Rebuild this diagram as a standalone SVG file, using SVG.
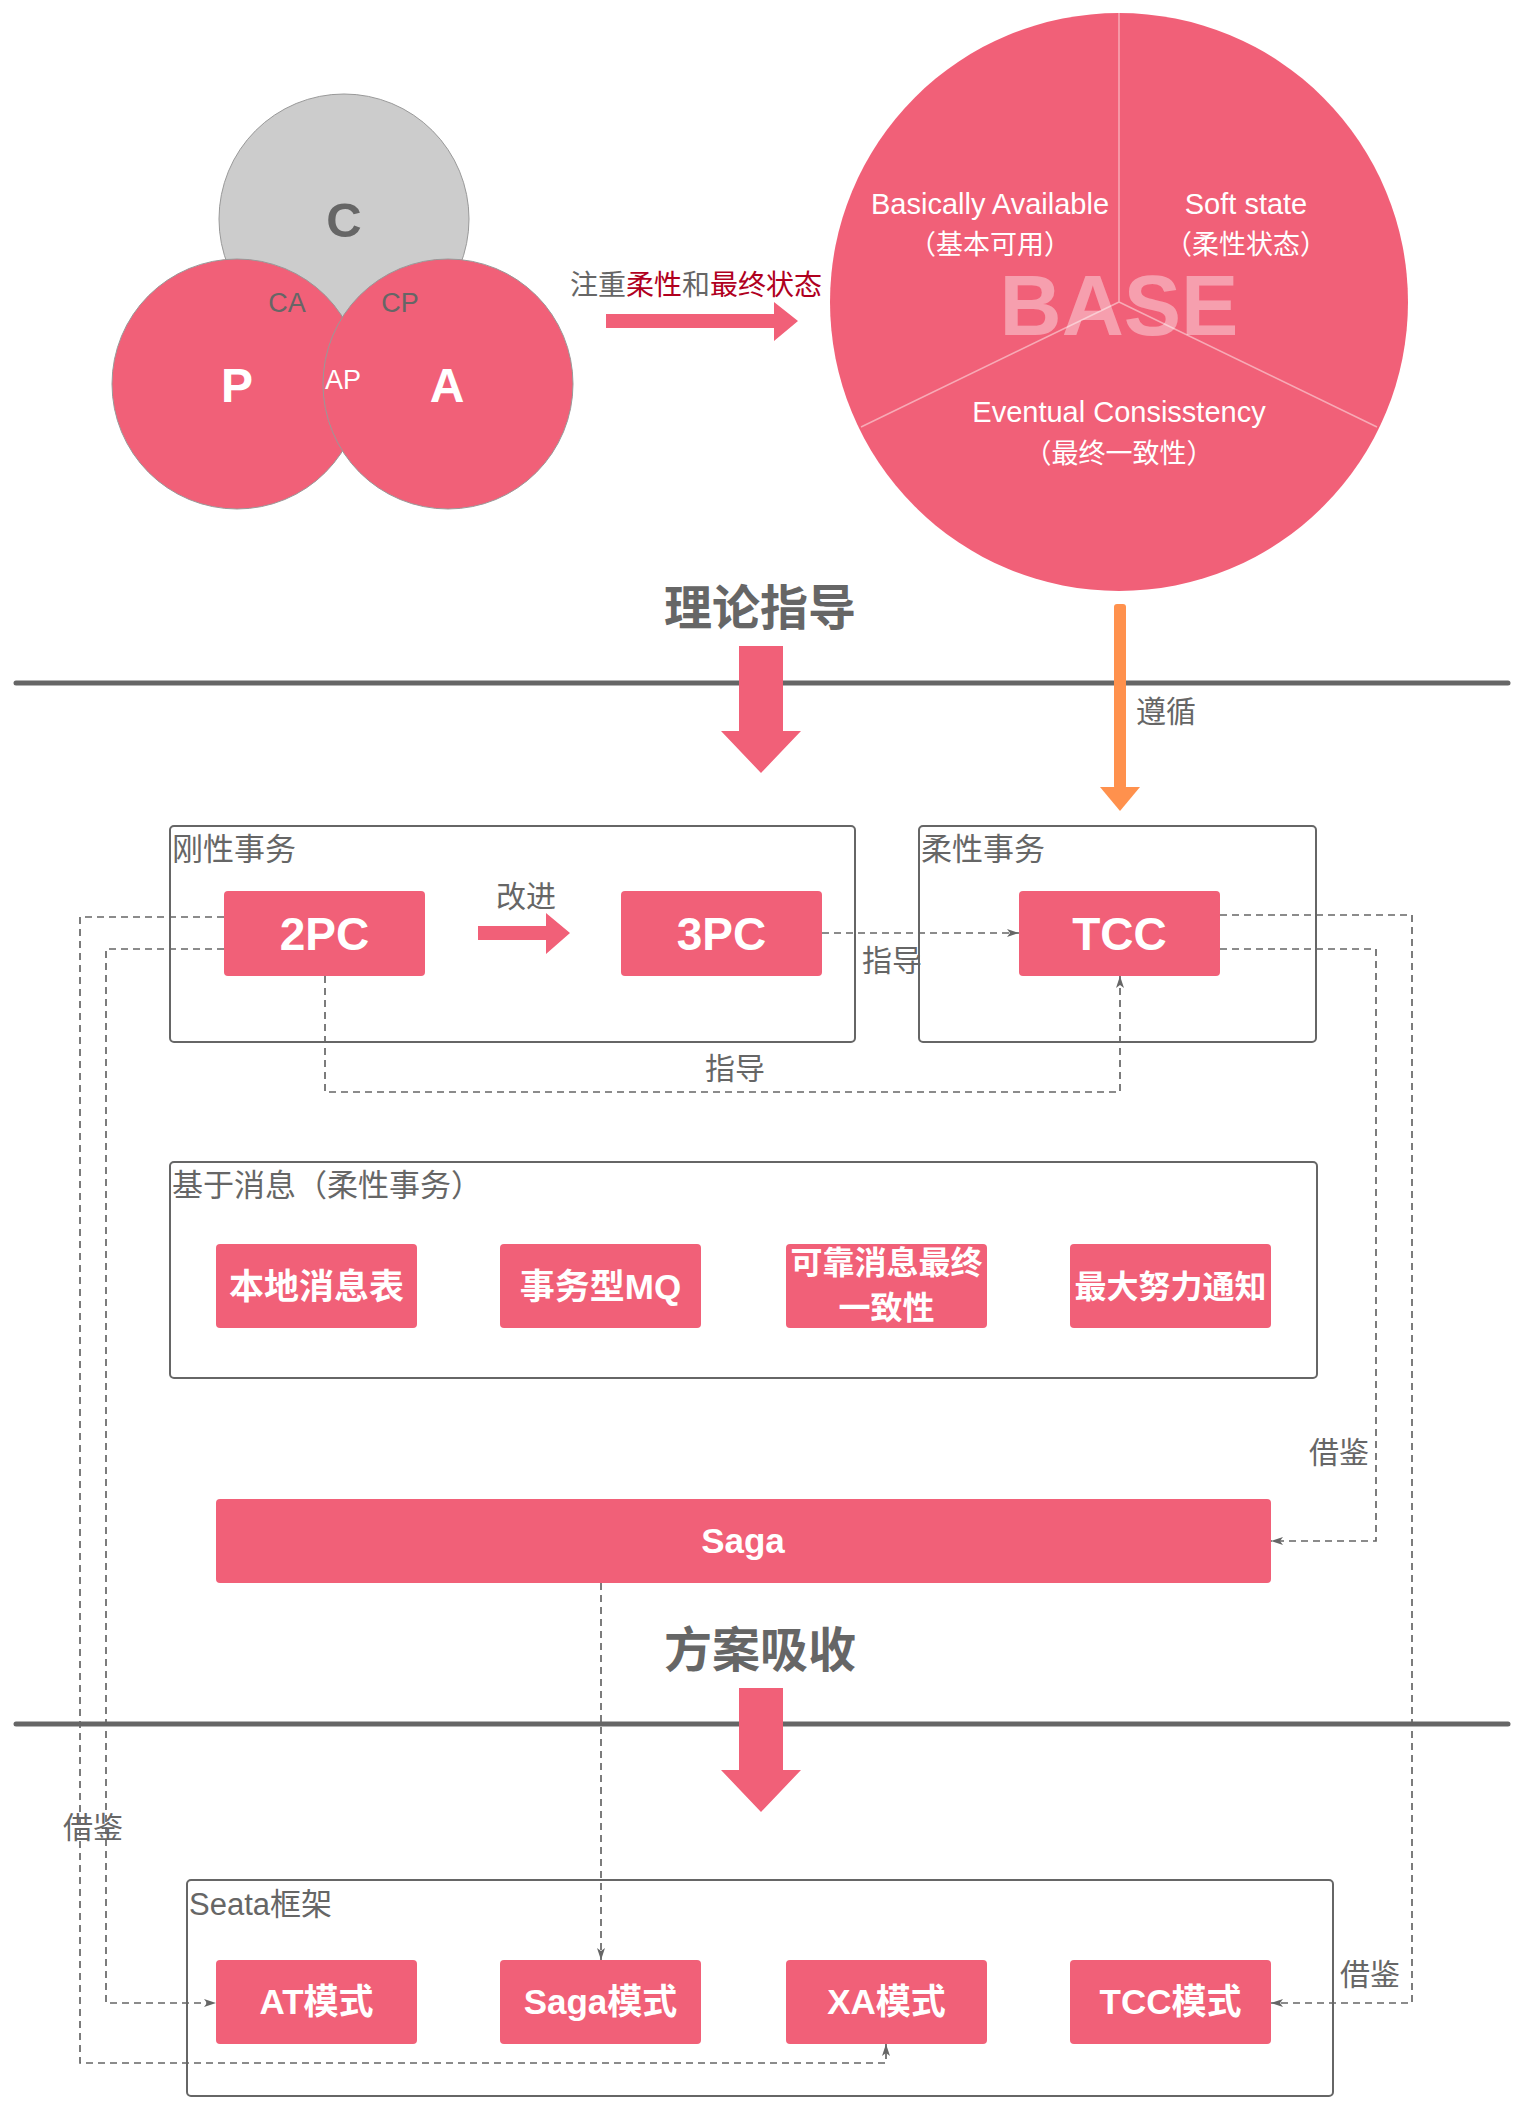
<svg xmlns="http://www.w3.org/2000/svg" width="1522" height="2114" viewBox="0 0 1522 2114">
<style>
  text { font-family: "Liberation Sans", "Noto Sans CJK SC", sans-serif; }
  .gray { fill: #666666; }
  .white { fill: #ffffff; }
  .bold { font-weight: bold; }
  .pink { fill: #f16078; }
  .frame { fill: none; stroke: #666666; stroke-width: 2; }
  .dash { fill: none; stroke: #666666; stroke-width: 1.7; stroke-dasharray: 7 5; }
  .lbl { font-size: 31px; fill: #666666; }
  .lbl30 { font-size: 30px; fill: #666666; }
  .node { font-size: 35px; font-weight: bold; fill: #ffffff; text-anchor: middle; }
  .node32 { font-size: 32px; font-weight: bold; fill: #ffffff; text-anchor: middle; }
  .big { font-size: 46px; font-weight: bold; fill: #ffffff; text-anchor: middle; }
  .title { font-size: 48px; font-weight: bold; fill: #666666; text-anchor: middle; }
  .sep { stroke: #666666; stroke-width: 5; stroke-linecap: round; }
  .base { font-size: 29px; fill: #ffffff; text-anchor: middle; }
  .basecn { font-size: 27px; fill: #ffffff; text-anchor: middle; }
  .red { fill: #b0001e; }
</style>
<defs>
  <marker id="ah" viewBox="0 0 12 8" refX="12" refY="4" markerWidth="12" markerHeight="8" markerUnits="userSpaceOnUse" orient="auto">
    <path d="M0,0 L12,4 L0,8 L3,4 Z" fill="#666666"/>
  </marker>
</defs>
<rect x="0" y="0" width="1522" height="2114" fill="#ffffff"/>

<!-- CAP -->
<g id="cap">
  <circle cx="344" cy="219" r="125" fill="#cccccc" stroke="#999999" stroke-width="1"/>
  <circle cx="237" cy="384" r="125" fill="#f16078" stroke="#999999" stroke-width="1"/>
  <circle cx="448" cy="384" r="125" fill="#f16078" stroke="#999999" stroke-width="1"/>
  <text x="344" y="237" class="gray bold" font-size="49" text-anchor="middle">C</text>
  <text x="237" y="402" class="white bold" font-size="48" text-anchor="middle">P</text>
  <text x="447" y="402" class="white bold" font-size="48" text-anchor="middle">A</text>
  <text x="287" y="312" class="gray" font-size="27" text-anchor="middle">CA</text>
  <text x="400" y="312" class="gray" font-size="27" text-anchor="middle">CP</text>
  <text x="343" y="389" class="white" font-size="27" text-anchor="middle">AP</text>
</g>

<!-- arrow to BASE -->
<g id="focus-arrow">
  <text x="570" y="295" font-size="28"><tspan class="gray">注重</tspan><tspan class="red">柔性</tspan><tspan class="gray">和</tspan><tspan class="red">最终状态</tspan></text>
  <polygon points="606,314 774,314 774,302 798,321 774,341 774,328 606,328" class="pink"/>
</g>

<!-- BASE -->
<g id="base">
  <circle cx="1119" cy="302" r="289" fill="#f16078"/>
  <g stroke="#f7aab6" stroke-width="1.5">
    <line x1="1119" y1="302" x2="1119" y2="13"/>
    <line x1="1119" y1="302" x2="861" y2="427"/>
    <line x1="1119" y1="302" x2="1377" y2="427"/>
  </g>
  <text x="1119" y="335" font-size="86" font-weight="bold" fill="#ffffff" fill-opacity="0.4" text-anchor="middle">BASE</text>
  <text x="990" y="214" class="base">Basically Available</text>
  <text x="990" y="254" class="basecn">（基本可用）</text>
  <text x="1246" y="214" class="base">Soft state</text>
  <text x="1246" y="254" class="basecn">（柔性状态）</text>
  <text x="1119" y="422" class="base">Eventual Consisstency</text>
  <text x="1119" y="463" class="basecn">（最终一致性）</text>
</g>

<!-- section 1 -->
<g id="section-theory">
  <text x="760" y="625" class="title">理论指导</text>
  <line x1="16" y1="683" x2="1508" y2="683" class="sep"/>
  <polygon points="739,646 783,646 783,731 801,731 761,773 721,731 739,731" class="pink"/>
</g>

<g id="follow-arrow">
  <rect x="1114" y="604" width="12" height="185" rx="3" fill="#ff914d"/>
  <polygon points="1100,787 1140,787 1120,811" fill="#ff914d"/>
  <text x="1136" y="722" class="lbl30">遵循</text>
</g>

<!-- rigid transactions -->
<g id="rigid">
  <rect x="170" y="826" width="685" height="216" rx="4" class="frame"/>
  <text x="172" y="860" class="lbl">刚性事务</text>
</g>
<g id="node-2pc">
  <rect x="224" y="891" width="201" height="85" rx="4" class="pink"/>
  <text x="324.5" y="950" class="big">2PC</text>
</g>
<g id="improve">
  <text x="526" y="907" class="lbl30" text-anchor="middle">改进</text>
  <polygon points="478,926 546,926 546,913 570,933 546,954 546,940 478,940" class="pink"/>
</g>
<g id="node-3pc">
  <rect x="621" y="891" width="201" height="85" rx="4" class="pink"/>
  <text x="721.5" y="950" class="big">3PC</text>
</g>

<!-- flexible transactions -->
<g id="flexible">
  <rect x="919" y="826" width="397" height="216" rx="4" class="frame"/>
  <text x="921" y="860" class="lbl">柔性事务</text>
</g>
<g id="node-tcc">
  <rect x="1019" y="891" width="201" height="85" rx="4" class="pink"/>
  <text x="1119.5" y="950" class="big">TCC</text>
</g>

<!-- message based -->
<g id="message">
  <rect x="170" y="1162" width="1147" height="216" rx="4" class="frame"/>
  <text x="172" y="1196" class="lbl">基于消息（柔性事务）</text>
</g>
<g id="node-local">
  <rect x="216" y="1244" width="201" height="84" rx="4" class="pink"/>
  <text x="316.5" y="1299" class="node">本地消息表</text>
</g>
<g id="node-mq">
  <rect x="500" y="1244" width="201" height="84" rx="4" class="pink"/>
  <text x="600.5" y="1299" class="node">事务型MQ</text>
</g>
<g id="node-reliable">
  <rect x="786" y="1244" width="201" height="84" rx="4" class="pink"/>
  <text x="886.5" y="1274" class="node32">可靠消息最终</text>
  <text x="886.5" y="1319" class="node32">一致性</text>
</g>
<g id="node-best">
  <rect x="1070" y="1244" width="201" height="84" rx="4" class="pink"/>
  <text x="1170.5" y="1298" class="node32">最大努力通知</text>
</g>

<!-- Saga -->
<g id="node-saga">
  <rect x="216" y="1499" width="1055" height="84" rx="4" class="pink"/>
  <text x="743" y="1553" class="node">Saga</text>
</g>

<!-- section 2 -->
<g id="section-absorb">
  <text x="760" y="1667" class="title">方案吸收</text>
  <line x1="16" y1="1724" x2="1508" y2="1724" class="sep"/>
  <polygon points="739,1688 783,1688 783,1770 801,1770 761,1812 721,1770 739,1770" class="pink"/>
</g>

<!-- Seata -->
<g id="seata">
  <rect x="187" y="1880" width="1146" height="216" rx="4" class="frame"/>
  <text x="189" y="1915" class="lbl">Seata框架</text>
</g>
<g id="node-at">
  <rect x="216" y="1960" width="201" height="84" rx="4" class="pink"/>
  <text x="316.5" y="2014" class="node">AT模式</text>
</g>
<g id="node-saga-mode">
  <rect x="500" y="1960" width="201" height="84" rx="4" class="pink"/>
  <text x="600.5" y="2014" class="node">Saga模式</text>
</g>
<g id="node-xa">
  <rect x="786" y="1960" width="201" height="84" rx="4" class="pink"/>
  <text x="886.5" y="2014" class="node">XA模式</text>
</g>
<g id="node-tcc-mode">
  <rect x="1070" y="1960" width="201" height="84" rx="4" class="pink"/>
  <text x="1170.5" y="2014" class="node">TCC模式</text>
</g>

<!-- connectors -->
<g id="connectors">
  <path d="M822,933 H1019" class="dash" marker-end="url(#ah)"/>
  <path d="M325,976 V1092 H1120 V976" class="dash" marker-end="url(#ah)"/>
  <path d="M224,917 H80 V2063 H886 V2044" class="dash" marker-end="url(#ah)"/>
  <path d="M224,949 H106 V2003 H216" class="dash" marker-end="url(#ah)"/>
  <path d="M1220,915 H1412 V2003 H1271" class="dash" marker-end="url(#ah)"/>
  <path d="M1220,949 H1376 V1541 H1271" class="dash" marker-end="url(#ah)"/>
  <path d="M601,1583 V1960" class="dash" marker-end="url(#ah)"/>
  <text x="862" y="971" class="lbl30">指导</text>
  <text x="735" y="1079" class="lbl30" text-anchor="middle">指导</text>
  <text x="1309" y="1463" class="lbl30">借鉴</text>
  <text x="63" y="1838" class="lbl30">借鉴</text>
  <text x="1340" y="1985" class="lbl30">借鉴</text>
</g>
</svg>
